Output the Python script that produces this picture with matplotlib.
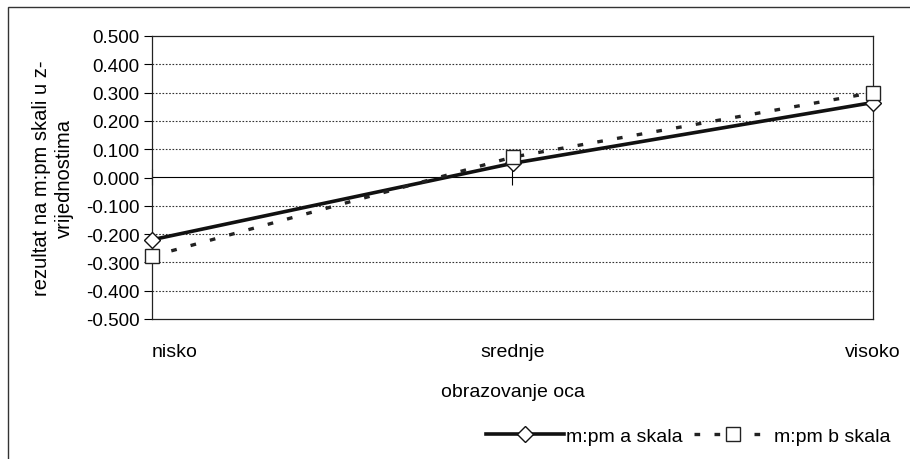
import matplotlib.pyplot as plt
from matplotlib.patches import Rectangle

categories = ['nisko', 'srednje', 'visoko']
skala_a = [-0.220, 0.050, 0.265]
skala_b = [-0.278, 0.072, 0.300]
yticks = [-0.5, -0.4, -0.3, -0.2, -0.1, 0.0, 0.1, 0.2, 0.3, 0.4, 0.5]

plt.rcParams['font.family'] = ['Liberation Sans', 'DejaVu Sans']

fig = plt.figure(figsize=(9.1, 4.6), dpi=100)
ax = fig.add_axes([152 / 910, 1 - 320 / 460, (873 - 152) / 910, (320 - 37) / 460])

x = list(range(len(categories)))
ax.plot(x, skala_a, color='#111111', lw=2.6, marker='D', ms=8,
        mfc='white', mec='#111111', mew=1.0, label='m:pm a skala',
        zorder=3, clip_on=False)
ax.plot(x, skala_b, color='#222222', lw=2.4, ls=(0, (1.7, 4.3)),
        marker='s', ms=10, mfc='white', mec='#222222', mew=1.0,
        label='m:pm b skala', zorder=4, clip_on=False)

ax.set_xlim(0, 2)
ax.set_ylim(-0.5, 0.5)
ax.set_yticks(yticks)
ax.set_yticklabels([f'{v:.3f}' for v in yticks], fontsize=13.5)
ax.tick_params(axis='y', direction='out', length=6, width=0.8, pad=3)
for v in yticks[1:-1]:
    if v != 0:
        ax.axhline(v, color='#333333', lw=0.8, ls=(0, (1.5, 1.5)), zorder=1)

ax.set_xticks(x)
ax.set_xticklabels(categories, fontsize=14)
ax.tick_params(axis='x', length=0, pad=17)
ax.get_xticklabels()[0].set_ha('left')

# zero axis with crossing tick marks
sec = ax.secondary_xaxis(0.5)
sec.set_xticks(x)
sec.set_xticklabels([])
sec.tick_params(direction='inout', length=11, width=0.8)
sec.spines['bottom'].set_linewidth(0.9)

for s in ax.spines.values():
    s.set_linewidth(0.9)
    s.set_color('#222222')

ax.set_xlabel('obrazovanje oca', fontsize=14)
ax.xaxis.set_label_coords(0.5, -0.225)
ax.set_ylabel('rezultat na m:pm skali u z-\nvrijednostima', fontsize=14.5,
              linespacing=1.3)
ax.yaxis.set_label_coords(-0.108, 0.5)

fig.legend(loc='center right', bbox_to_anchor=(908 / 910, 1 - 437 / 460),
           ncol=2, frameon=False, fontsize=14, handlelength=4.0,
           columnspacing=0.6, handletextpad=0.1)

fig.patches.append(Rectangle((8 / 910, -0.02), 1.0, 1 - 8 / 460 + 0.02,
                             transform=fig.transFigure, fill=False,
                             ec='#333333', lw=1.0))

fig.savefig('out.png', dpi=100)
